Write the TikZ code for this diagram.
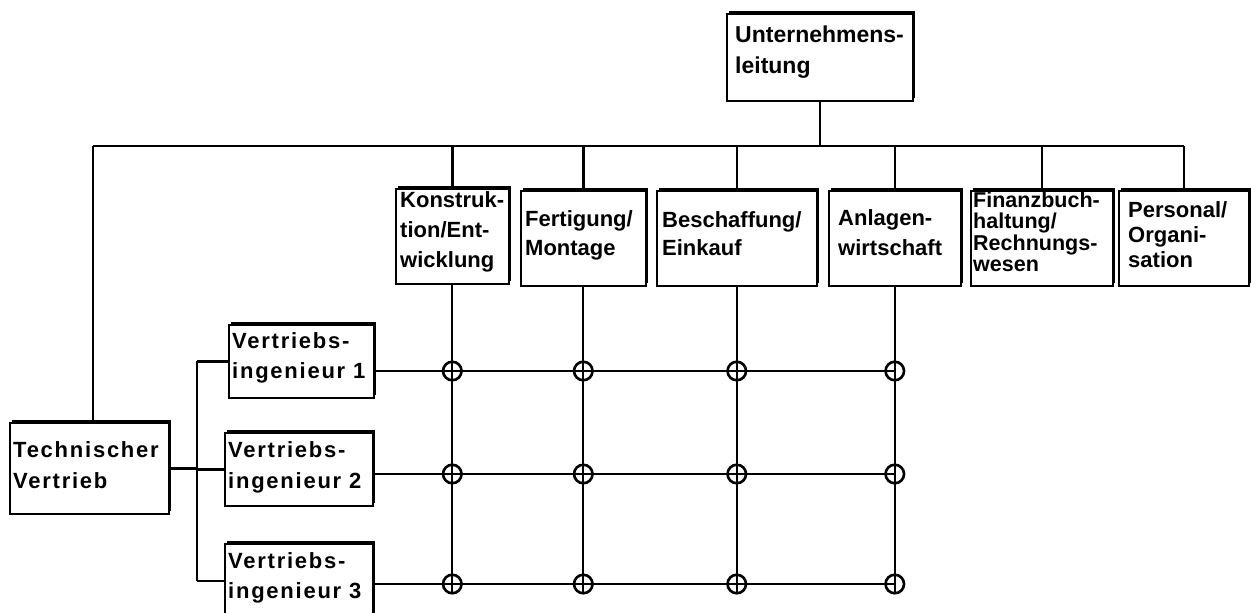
\documentclass[tikz,border=0pt]{standalone}
\usepackage{fontspec}
\setmainfont{Liberation Sans}
\newfontfamily\spacedfont[LetterSpace=8]{Liberation Sans}
\usetikzlibrary{calc,shadows}

% multi-line label: size, line distance, lines
\newcommand\boxtext[3]{{\fontsize{#1}{#2}\selectfont\begin{tabular}[t]{@{}l@{}}#3\end{tabular}}}

\tikzset{
  orgbox/.style={draw, line width=1.6pt, fill=white, inner sep=0pt, anchor=north west,
    drop shadow={shadow xshift=2.6pt, shadow yshift=2.6pt, fill=black, opacity=1}},
  lbl/.style={anchor=base west, inner sep=0pt, font=\bfseries},
  slbl/.style={anchor=base west, inner sep=0pt, font=\spacedfont\bfseries},
  conn/.style={line width=2.4pt},
  gridline/.style={line width=2.1pt},
  junction/.style={circle, draw, line width=2.6pt, minimum size=18.5pt, inner sep=0pt},
}

\begin{document}
\begin{tikzpicture}[x=1pt, y=-1pt]
\useasboundingbox (0,0) rectangle (1251,613);

% management and departments
\node[orgbox, minimum width=186pt, minimum height=87pt] (u)  at (726,13)  {};
\node[orgbox, minimum width=113pt, minimum height=95pt] (k)  at (395,188) {};
\node[orgbox, minimum width=125pt, minimum height=95pt] (f)  at (520,190) {};
\node[orgbox, minimum width=160pt, minimum height=95pt] (b)  at (656,190) {};
\node[orgbox, minimum width=132pt, minimum height=95pt] (a)  at (828,190) {};
\node[orgbox, minimum width=142pt, minimum height=95pt] (fi) at (970,190) {};
\node[orgbox, minimum width=130pt, minimum height=95pt] (p)  at (1118,190) {};

% sales
\node[orgbox, minimum width=159pt, minimum height=91pt] (tv) at (9,422)   {};
\node[orgbox, minimum width=145pt, minimum height=73pt] (v1) at (228,324) {};
\node[orgbox, minimum width=148pt, minimum height=73pt] (v2) at (224,432) {};
\node[orgbox, minimum width=148pt, minimum height=74pt] (v3) at (224,543) {};

% labels
\node[lbl] (ut)  at (735,42)  {\boxtext{23}{31}{Unternehmens-\\leitung}};
\node[lbl] (kt)  at (400,207) {\boxtext{22}{30}{Konstruk-\\tion/Ent-\\wicklung}};
\node[lbl] (ft)  at (525,226) {\boxtext{22}{29}{Fertigung/\\Montage}};
\node[lbl] (bt)  at (662,227) {\boxtext{22}{28}{Beschaffung/\\Einkauf}};
\node[lbl] (at)  at (838,225) {\boxtext{22}{30}{Anlagen-\\wirtschaft}};
\node[lbl] (fit) at (973,207) {\boxtext{21.5}{21}{Finanzbuch-\\haltung/\\Rechnungs-\\wesen}};
\node[lbl] (pt)  at (1128,217) {\boxtext{22}{25}{Personal/\\Organi-\\sation}};
\node[slbl] (tvt) at (13,457)  {\boxtext{22}{31}{Technischer\\Vertrieb}};
\node[slbl] (v1t) at (232,348) {\boxtext{22}{30}{Vertriebs-\\ingenieur 1}};
\node[slbl] (v2t) at (228,457) {\boxtext{22}{31}{Vertriebs-\\ingenieur 2}};
\node[slbl] (v3t) at (228,568) {\boxtext{22}{30}{Vertriebs-\\ingenieur 3}};

% main bus
\coordinate (busL) at (93,146);
\draw[conn] (u.south) -- (u.south |- busL);
\draw[conn] (busL) -- (p.north |- busL);
\draw[conn] (busL) -- (busL |- tv.north);
\foreach \d in {k,f,b,a,fi,p}
  \draw[conn] (\d.north |- busL) -- (\d.north);

% sales branches
\coordinate (sb) at (197,467);
\draw[conn] (tv.east) -- (tv.east -| sb);
\draw[conn] (v1.west -| sb) -- (v3.west -| sb);
\foreach \v in {v1,v2,v3}
  \draw[conn] (\v.west -| sb) -- (\v.west);

% matrix rows
\coordinate (r1) at (v1.east |- 0,371);
\coordinate (r2) at (v2.east |- 0,474);
\coordinate (r3) at (v3.east |- 0,584);

\foreach \c [count=\j] in {k,f,b,a}
  \foreach \r [count=\i] in {r1,r2,r3}
    \coordinate (j\i\j) at (\c.south |- \r);

\foreach \c [count=\j] in {k,f,b,a}
  \draw[gridline] (\c.south) -- ($(j3\j)+(0,9)$);
\foreach \i in {1,2,3}
  \draw[gridline] (r\i) -- (j\i4);

\foreach \i in {1,2,3}
  \foreach \j in {1,2,3,4}
    \node[junction] (n\i\j) at (j\i\j) {};

\end{tikzpicture}
\end{document}
